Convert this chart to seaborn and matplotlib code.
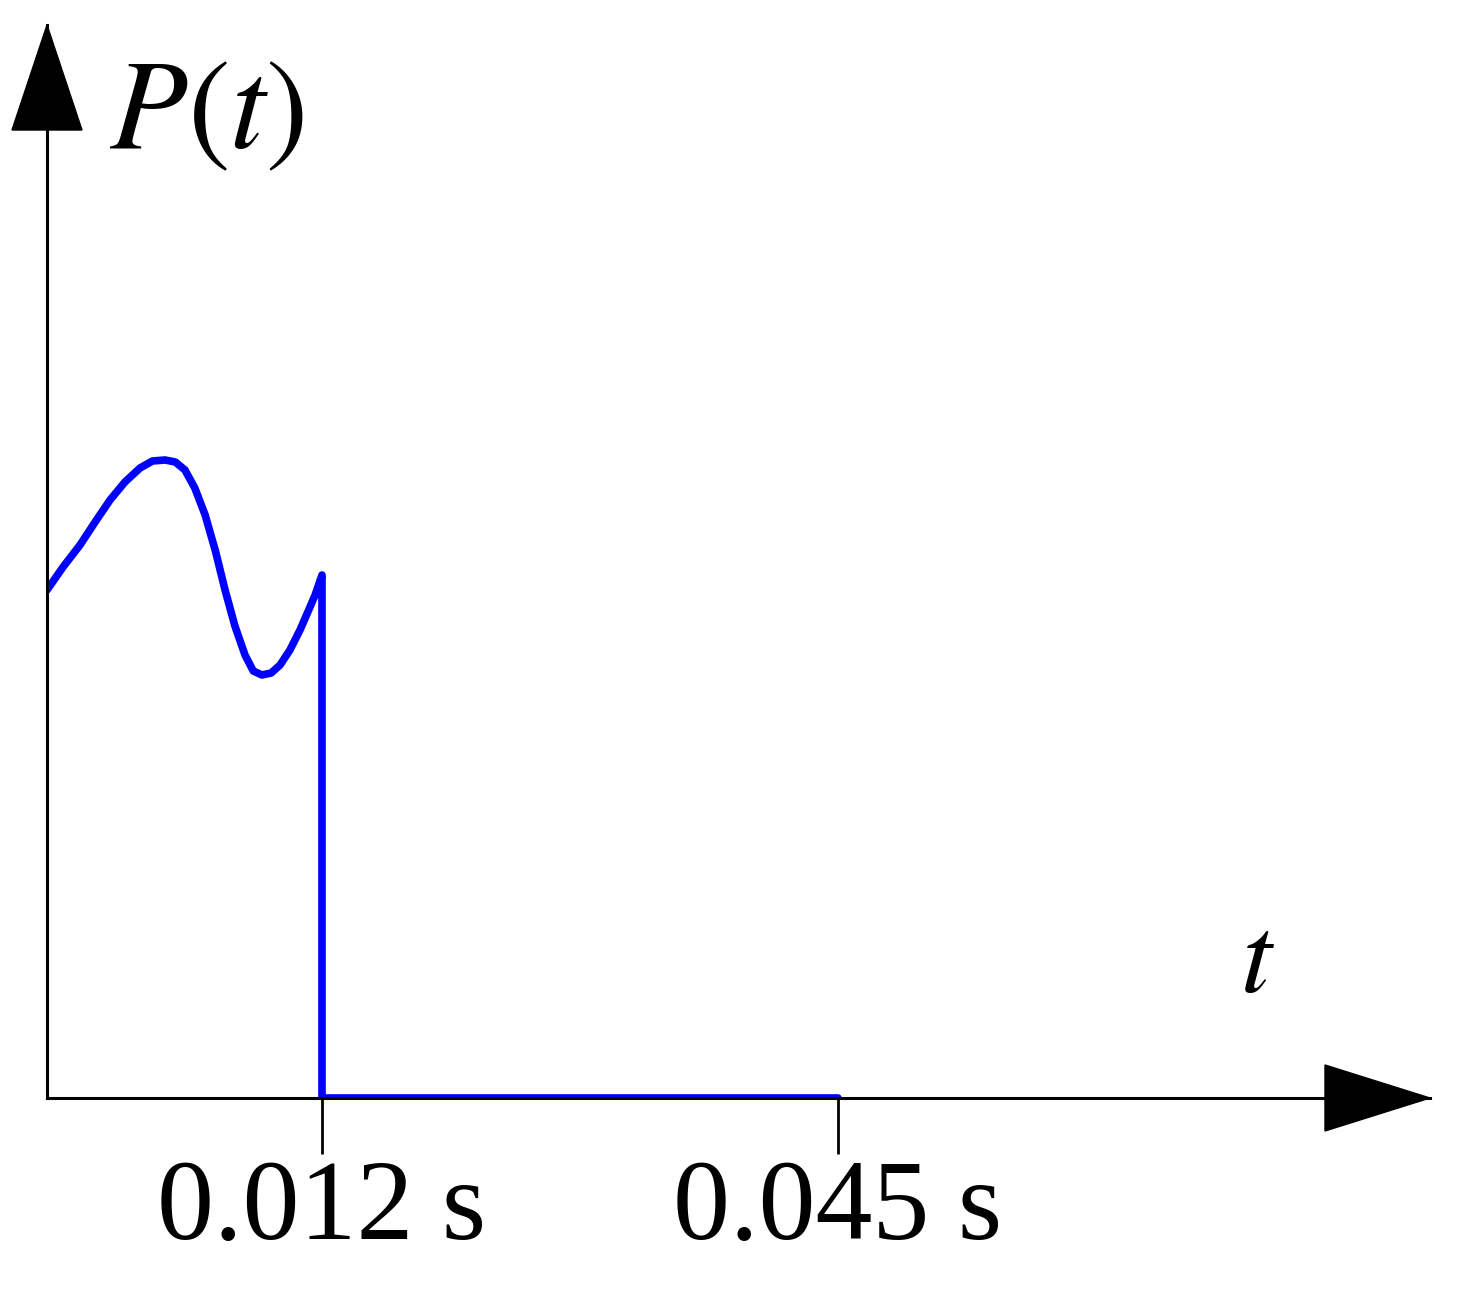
import numpy as np
import matplotlib
matplotlib.use("Agg")
import matplotlib.pyplot as plt
import seaborn as sns
import pandas as pd

t_vals = [0, .00070, .00144, .00210, .00275, .00340, .00406, .00460, .00515, .00560, .00602, .00645, .0069, .00735, .00777, .00820, .00864, .00900, .00938, .00978, .01017, .01060, .01104, .0114, .0117, .012, .012, .045]
p_vals = [.508, .531, .553, .576, .598, .616, .630, .637, .638, .636, .628, .610, .583, .547, .508, .472, .443, .427, .423, .425, .433, .448, .468, .487, .503, .523, 0, 0]
tick_pos = [0.012, 0.045]
tick_labels = ["0.012 s", "0.045 s"]

# schematic (piecewise linear) time axis
bx = np.array([0, 0.012, 0.045, 0.1])
by = np.array([0, 275, 791, 791 + 0.055 * 15636])
def fwd(x):
    return np.interp(x, bx, by)
def inv(y):
    return np.interp(y, by, bx)

sns.set_style("white")
plt.rcParams['font.family'] = ['Liberation Serif', 'DejaVu Serif']
plt.rcParams['mathtext.fontset'] = 'stix'

fig = plt.figure(figsize=(14.59, 13.08), dpi=100)
ax = fig.add_axes([47/1459, 210/1308, 1383/1459, 1073/1308])
ax.set_xscale('function', functions=(fwd, inv))
df = pd.DataFrame({"t": t_vals, "P": p_vals})
sns.lineplot(data=df, x="t", y="P", sort=False, color="#0000ff", lw=5.5, ax=ax, estimator=None)
ax.set_xlim(0, inv(1383))
ax.set_ylim(0, 1.073)
for s in ["top", "right"]:
    ax.spines[s].set_visible(False)
for s in ["left", "bottom"]:
    ax.spines[s].set_linewidth(2.2)
    ax.spines[s].set_color("black")
ax.set_xticks(tick_pos)
ax.set_xticklabels(tick_labels, fontsize=82, color='black')
ax.tick_params(axis='x', bottom=True, direction='out', length=40, width=2, pad=4, color='black')
ax.set_yticks([])
ax.set_xlabel(""); ax.set_ylabel("")

W, H = 1383, 1073
ax.add_patch(plt.Polygon([[(1278)/W, 33/H], [1383/W, 0], [1278/W, -33/H]], closed=True,
                         color='black', transform=ax.transAxes, clip_on=False))
ax.add_patch(plt.Polygon([[-35/W, (H-105)/H], [0, 1], [35/W, (H-105)/H]], closed=True,
                         color='black', transform=ax.transAxes, clip_on=False))
ax.text(62/W, (1098-118)/H, r"$P(t)$", fontsize=92, color='black', transform=ax.transAxes, va='center', ha='left')
ax.text(1210/W, (1098-965)/H, r"$t$", fontsize=80, color='black', transform=ax.transAxes, va='center', ha='center')
fig.savefig("out.png", dpi=100)
